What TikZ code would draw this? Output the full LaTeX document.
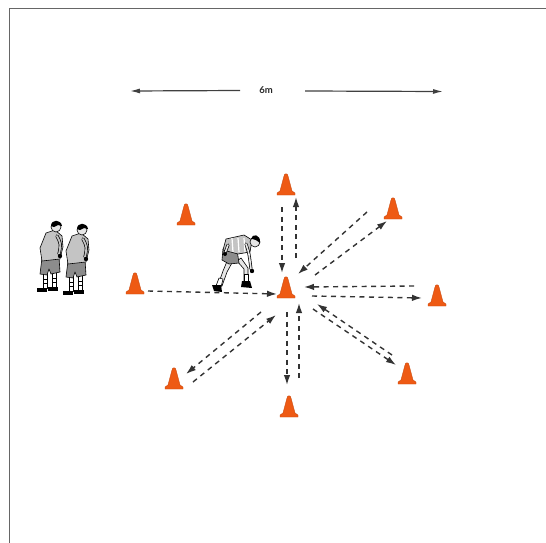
\documentclass[tikz,border=0pt]{standalone}
\usepackage{fontspec}
\setmainfont{Lato}
\usetikzlibrary{arrows.meta}
\definecolor{conefill}{HTML}{EE5A14}
\definecolor{coneedge}{HTML}{C9480C}
\definecolor{runline}{HTML}{333333}
\definecolor{shirt}{HTML}{C4C4C4}
\definecolor{shorts}{HTML}{8C8C8C}
\definecolor{skin}{HTML}{E6E6E6}
\tikzset{
  frameline/.style={draw=black!60, line width=1.6pt},
  dimline/.style={draw=black!75, line width=1.2pt, -{Latex[length=10pt,width=5pt]}},
  runpath/.style={draw=runline, line width=1.4pt, dash pattern=on 5pt off 4.5pt,
    -{Latex[length=10pt,width=6.5pt]}},
  outl/.style={draw=black, line width=0.6pt, line join=round},
  cone/.pic={
    \fill[conefill, draw=coneedge, line width=0.4pt]
      (-9,0) -- (-9,-2) -- (-6,-4) -- (-2,-19) .. controls (-1.5,-22) and (1.5,-22) .. (2,-19)
      -- (6,-4) -- (9,-2) -- (9,0) -- cycle;
  },
  standing/.pic={
    % shoes
    \fill[black] (-13,28) rectangle (-3,32);
    \fill[black] (-2,27) rectangle (8,31);
    % legs with striped socks
    \draw[outl, fill=white] (-7,13) rectangle (-3,28);
    \draw[outl, fill=white] (2,12) rectangle (6,27);
    \foreach \yy in {19,23} {\draw[black, line width=0.7pt] (-7,\yy) -- (-3,\yy);
      \draw[black, line width=0.7pt] (2,\yy-1) -- (6,\yy-1);}
    % shorts
    \draw[outl, fill=shorts] (-8,-2) -- (9,-3) -- (10,12) -- (1,14) -- (-1,9) -- (-3,15) -- (-10,14) -- cycle;
    % shirt
    \draw[outl, fill=shirt] (-4,-27) -- (5,-30) -- (12,-24) -- (13,-13) -- (10,-1) -- (-8,1) -- (-10,-12) -- cycle;
    % arm and hand
    \draw[black, line width=3.2pt, line cap=round] (7,-24) .. controls (11,-16) .. (9,-6);
    \draw[shirt, line width=1.8pt, line cap=round] (7,-24) .. controls (11,-16) .. (9,-6);
    \fill[black] (10,-4) circle (2.2);
    % head
    \draw[outl, fill=skin] (6,-33) circle (5);
    \fill[black] (1,-34) .. controls (1,-41) and (11,-41) .. (12,-34) -- (8,-35) -- (4,-33) -- cycle;
  },
  crouching/.pic={
    % back leg
    \draw[outl, fill=skin] (-24,-2) -- (-29,10) -- (-34,24) -- (-30,25) -- (-25,11) -- (-19,0) -- cycle;
    \draw[outl, fill=white] (-33,17) -- (-36,25) -- (-31,26) -- (-29,18) -- cycle;
    \fill[black] (-40,24) -- (-31,24) -- (-30,31) -- (-38,30) -- cycle;
    % front leg
    \draw[outl, fill=skin] (-15,0) -- (-8,8) -- (-8,21) -- (-4,21) -- (-4,7) -- (-11,-3) -- cycle;
    \draw[outl, fill=white] (-8,13) rectangle (-4,21);
    \fill[black] (-10,20) -- (-2,20) -- (0,27) -- (-11,26) -- cycle;
    % shorts
    \draw[outl, fill=shorts] (-29,-12) -- (-15,-11) -- (-13,2) -- (-23,3) -- (-30,-1) -- cycle;
    % shirt
    \draw[outl, fill=shirt] (-26,-22) -- (-8,-26) -- (0,-21) -- (-2,-9) -- (-14,-7) -- (-29,-11) -- cycle;
    \foreach \xx in {-20,-14,-8} \draw[white, line width=1.2pt] (\xx,-23) -- (\xx+1,-9);
    % arms
    \draw[black, line width=3pt, line cap=round] (-6,-17) .. controls (-3,-8) .. (-1,8);
    \draw[skin, line width=1.6pt, line cap=round] (-6,-17) .. controls (-3,-8) .. (-1,8);
    \fill[black] (0,10) circle (2.2);
    \draw[black, line width=3pt, line cap=round] (-24,-16) -- (-27,-8);
    \draw[skin, line width=1.6pt, line cap=round] (-24,-16) -- (-27,-8);
    \fill[black] (-27,-7) circle (2);
    % head
    \draw[outl, fill=skin] (3,-19) circle (5);
    \fill[black] (-1,-22) .. controls (0,-28) and (9,-27) .. (8,-18) .. controls (6,-20) and (3,-22) .. (-1,-22) -- cycle;
  }
}
\begin{document}
\begin{tikzpicture}[x=1pt,y=-1pt]
\useasboundingbox (0,0) rectangle (546,543);
\fill[white] (0,0) rectangle (546,543);

% field border
\coordinate (tl) at (9.5,8.5);
\coordinate (tr) at (546,8.5);
\coordinate (bl) at (9.5,543);
\draw[frameline] (tr) -- (tl) -- (bl);

% width marker
\node[font=\fontsize{9.5}{11}\selectfont\bfseries, text=black!85, inner sep=0pt] (dim) at (266,90) {6m};
\coordinate (dimL) at (130,91);
\coordinate (dimR) at (443,91.5);
\coordinate (dimLs) at (240,90.5);
\coordinate (dimRs) at (305,91);
\draw[dimline] (dimLs) -- (dimL);
\draw[dimline] (dimRs) -- (dimR);

% cones
\pic (cTop) at (286,195) {cone};
\pic (cTR) at (393,219) {cone};
\pic (cUL) at (186,225) {cone};
\pic (cL) at (135,294) {cone};
\pic (cC) at (286,298) {cone};
\pic (cR) at (437,306) {cone};
\pic (cLR) at (407,384) {cone};
\pic (cLL) at (174,389) {cone};
\pic (cB) at (289,417) {cone};

% players
\pic (p1) at (50,260) {standing};
\pic (p2) at (76,263) {standing};
\pic (p3) at (252,261) {crouching};

% run endpoints
\coordinate (a1s) at (148,291);  \coordinate (a1e) at (277,294);
\coordinate (a2s) at (282,207);  \coordinate (a2e) at (282,273);
\coordinate (a3s) at (296,258);  \coordinate (a3e) at (296,197);
\coordinate (a4s) at (367,212);  \coordinate (a4e) at (298,274);
\coordinate (a5s) at (315,275);  \coordinate (a5e) at (387,221);
\coordinate (a6s) at (414,286);  \coordinate (a6e) at (304,287);
\coordinate (a7s) at (312,296);  \coordinate (a7e) at (422,298);
\coordinate (a8s) at (392,355);  \coordinate (a8e) at (317,304);
\coordinate (a9s) at (313,309);  \coordinate (a9e) at (396,365);
\coordinate (a10s) at (287,312); \coordinate (a10e) at (287,385);
\coordinate (a11s) at (299,378); \coordinate (a11e) at (299,303);
\coordinate (a12s) at (261,312); \coordinate (a12e) at (186,374);
\coordinate (a13s) at (193,382); \coordinate (a13e) at (276,315);

\foreach \i in {1,...,13} \draw[runpath] (a\i s) -- (a\i e);
\end{tikzpicture}
\end{document}
